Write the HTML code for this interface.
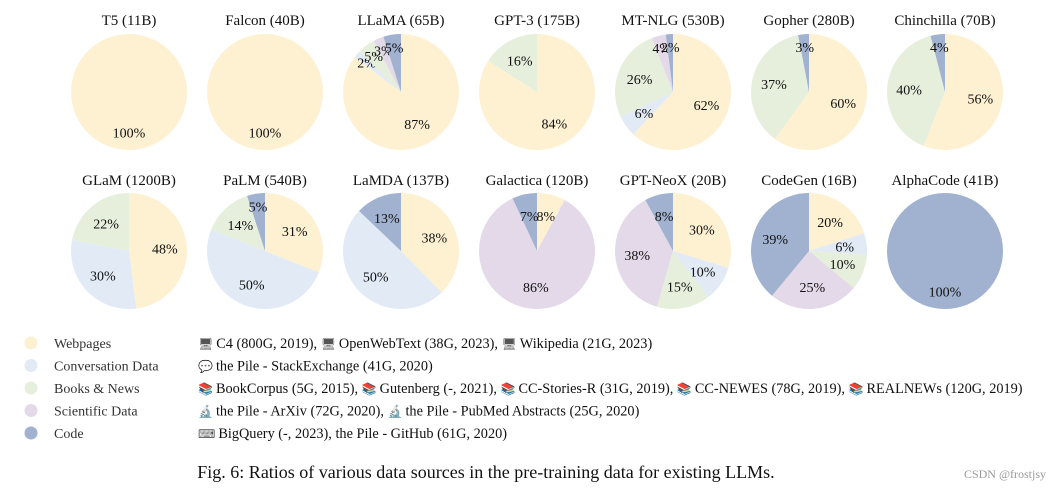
<!DOCTYPE html>
<html><head><meta charset="utf-8"><style>
body{margin:0;width:1060px;height:494px;background:#fff;overflow:hidden;font-family:"Liberation Serif",serif}
svg text{font-family:"Liberation Serif",serif}
</style></head><body>
<svg id="c" width="1060" height="494"></svg>
<script>
const models=["T5 (11B)","Falcon (40B)","LLaMA (65B)","GPT-3 (175B)","MT-NLG (530B)","Gopher (280B)","Chinchilla (70B)","GLaM (1200B)","PaLM (540B)","LaMDA (137B)","Galactica (120B)","GPT-NeoX (20B)","CodeGen (16B)","AlphaCode (41B)"];
// order: webpages, conversation, books&news, scientific, code
const webpages=[100,100,87,84,62,60,56,48,31,38,8,30,20,0];
const conversation=[0,0,2,0,6,0,0,30,50,50,0,10,6,0];
const books=[0,0,5,16,26,37,40,22,14,0,0,15,10,0];
const scientific=[0,0,3,0,4,0,0,0,0,0,86,38,25,0];
const code=[0,0,5,0,2,3,4,0,5,13,7,8,39,100];
const categories=["Webpages","Conversation Data","Books & News","Scientific Data","Code"];
const icons=["\u{1F5A5}","\u{1F4AC}","\u{1F4DA}","\u{1F52C}","\u2328"];
const sources=[
 [[0,"C4 (800G, 2019), "],[0,"OpenWebText (38G, 2023), "],[0,"Wikipedia (21G, 2023)"]],
 [[1,"the Pile - StackExchange (41G, 2020)"]],
 [[2,"BookCorpus (5G, 2015), "],[2,"Gutenberg (-, 2021), "],[2,"CC-Stories-R (31G, 2019), "],[2,"CC-NEWES (78G, 2019), "],[2,"REALNEWs (120G, 2019)"]],
 [[3,"the Pile - ArXiv (72G, 2020), "],[3,"the Pile - PubMed Abstracts (25G, 2020)"]],
 [[4,"BigQuery (-, 2023), the Pile - GitHub (61G, 2020)"]]];
const colors=["#fdf1d2","#e1eaf5","#e6efdc","#e4d9e8","#a0b2d0"];
const NS="http://www.w3.org/2000/svg";
const svg=document.getElementById('c');
function mk(t,a,p){const e=document.createElementNS(NS,t);for(const k in a)e.setAttribute(k,a[k]);(p||svg).appendChild(e);return e;}
const R=58;
models.forEach((m,i)=>{
  const col=i%7;
  const x=129+col*136,y=i<7?92:251,ty=i<7?25:185;
  const g=mk('g',{});
  
  
  const t=mk('text',{x:x,y:ty,'text-anchor':'middle','font-size':15,fill:'#111'},g);t.textContent=m;
  
  
  const vals=[webpages[i],conversation[i],books[i],scientific[i],code[i]];
  const tot=vals.reduce((a,b)=>a+b,0);
  let a0=0;
  vals.forEach((v,k)=>{
    if(!v)return;
    const a1=a0+v/tot*2*Math.PI;
    let s;
    if(v>=tot){s=mk('circle',{cx:x,cy:y,r:R,fill:colors[k]},g);}
    else{
      const x0=x+R*Math.sin(a0),y0=y-R*Math.cos(a0),x1=x+R*Math.sin(a1),y1=y-R*Math.cos(a1);
      s=mk('path',{d:`M${x},${y}L${x0},${y0}A${R},${R} 0 ${a1-a0>Math.PI?1:0} 1 ${x1},${y1}Z`,fill:colors[k]},g);
    }
    
    
    const am=(a0+a1)/2,lr=v>=tot?R*0.7:(v<6?R*0.78:R*0.62);
    const l=mk('text',{x:x+lr*Math.sin(am),y:y-lr*Math.cos(am)+5,'text-anchor':'middle','font-size':14,fill:'#111'},g);
    l.textContent=v+'%';
    
    
    a0=a1;
  });
});
categories.forEach((c,k)=>{
  const y=343+k*22.5;
  const d=mk('circle',{cx:31,cy:y,r:6.5,fill:colors[k]});
  
  
  const t=mk('text',{x:54,y:y+5,'font-size':14,fill:'#333'});t.textContent=c;
  
  
  const s=mk('text',{x:198,y:y+5,'font-size':14.3,fill:'#111'});
  
  
  sources[k].forEach(([ic,txt])=>{
    const a=mk('tspan',{'font-size':12,fill:'#555'},s);a.textContent=icons[ic]+' ';
    const b=mk('tspan',{'font-size':14.3},s);b.textContent=txt;
  });
});
const cap=mk('text',{x:486,y:478,'text-anchor':'middle','font-size':18,fill:'#111'});cap.textContent="Fig. 6: Ratios of various data sources in the pre-training data for existing LLMs.";


const wm=mk('text',{x:1046,y:478,'text-anchor':'end','font-size':12,fill:'#999','font-family':'Liberation Sans,sans-serif'});wm.textContent="CSDN @frostjsy";


</script>
</body></html>
